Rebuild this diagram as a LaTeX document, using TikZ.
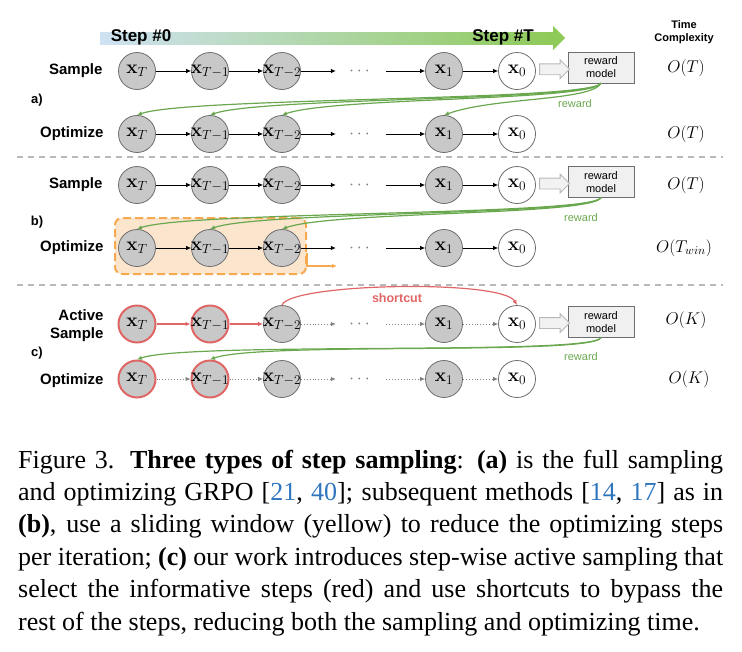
\documentclass[tikz,border=0pt]{standalone}
\usepackage{fix-cm}
\usepackage{amsmath}
\usepackage[no-math]{fontspec}
\setmainfont{Liberation Sans}
\newfontfamily\capfont{Liberation Serif}
\usetikzlibrary{positioning, arrows.meta, calc, shapes.arrows}

\definecolor{nodegray}{RGB}{200,200,200}
\definecolor{edgegray}{RGB}{110,110,110}
\definecolor{rewardgreen}{RGB}{106,168,79}
\definecolor{activered}{RGB}{224,102,102}
\definecolor{winfill}{RGB}{252,229,205}
\definecolor{windraw}{RGB}{246,170,80}
\definecolor{barblue}{RGB}{207,226,243}
\definecolor{bargreen}{RGB}{142,202,88}
\definecolor{citeblue}{RGB}{48,118,190}

\begin{document}
\begin{tikzpicture}[
		x=1pt, y=-1pt,
		>={Latex[length=5pt, width=4.5pt]},
		xnode/.style={circle, draw=edgegray, line width=0.8pt, fill=nodegray, minimum size=37pt, inner sep=-8pt, font=\fontsize{19}{19}\selectfont},
		xlast/.style={xnode, fill=white},
		xactive/.style={xnode, draw=activered, line width=2pt},
		dotsnode/.style={minimum width=50pt, inner sep=0pt, text=gray, font=\fontsize{18}{18}\selectfont},
		link/.style={->, line width=0.8pt},
		redlink/.style={->, draw=activered, line width=1.2pt},
		dotlink/.style={->, gray, line width=0.9pt, dotted},
		rowlabel/.style={anchor=east, align=right, font=\fontsize{15}{18}\selectfont\bfseries},
		panel/.style={font=\fontsize{13}{13}\selectfont\bfseries},
		rmodel/.style={draw=edgegray, fill=gray!12, minimum width=66pt, minimum height=31pt, align=center, inner sep=1pt, font=\fontsize{11}{13}\selectfont},
		feed/.style={single arrow, draw=gray!55, fill=gray!10, line width=0.9pt, minimum height=30pt, single arrow head extend=4pt, inner sep=5pt},
		reward/.style={->, rewardgreen, line width=1.2pt},
		rlabel/.style={text=rewardgreen, font=\fontsize{11}{13}\selectfont},
		cost/.style={font=\fontsize{17}{17}\selectfont},
		divider/.style={gray!55, line width=1.2pt, dash pattern=on 6pt off 5pt},
		window/.style={draw=windraw, fill=winfill, line width=2pt, dash pattern=on 8pt off 4pt, rounded corners=7pt, minimum width=191pt, minimum height=56pt},
		steplabel/.style={anchor=base, font=\fontsize{17}{17}\selectfont\bfseries}
		]
		
		\useasboundingbox (0,0) rectangle (742,651);
		
		% --- Header: step direction bar ---
		\shade[left color=barblue, right color=bargreen] (100,32) rectangle (553,44);
		\fill[bargreen] (553,26) -- (565,38) -- (553,50) -- cycle;
		\node[steplabel] (s0) at (141,41) {Step \#0};
		\node[steplabel] (sT) at (503,41) {Step \#T};
		\node[align=center, font=\fontsize{11}{12.5}\selectfont\bfseries] (tc) at (684,32) {Time\\Complexity};
		
		% Sliding window of b) (behind the nodes)
		\node[window] (win) at (210.5,246) {};
		
		% --- The six chains of steps ---
		\foreach \r/\y/\ns/\fa/\ra in {aS/71/xnode/link/link, aO/134/xnode/link/link,
			bS/185/xnode/link/link, bO/248/xnode/link/link,
			cS/324/xactive/redlink/dotlink, cO/379/xactive/dotlink/dotlink}{
			\node[\ns] (\r-T) at (137,\y) {$\mathbf{x}_T$};
			\node[\ns] (\r-T1) at (210,\y) {$\mathbf{x}_{T-1}$};
			\node[xnode] (\r-T2) at (282,\y) {$\mathbf{x}_{T-2}$};
			\node[dotsnode] (\r-d) at (361,\y) {$\cdots$};
			\node[xnode] (\r-1) at (444,\y) {$\mathbf{x}_1$};
			\node[xlast] (\r-0) at (517,\y) {$\mathbf{x}_0$};
			\draw[\fa] (\r-T) -- (\r-T1);
			\draw[\fa] (\r-T1) -- (\r-T2);
			\draw[\ra] (\r-T2) -- (\r-d);
			\draw[\ra] (\r-d) -- (\r-1);
			\draw[\ra] (\r-1) -- (\r-0);
		}
		
		% Row labels
		\node[rowlabel] (la1) at (106,71) {Sample};
		\node[rowlabel] (la2) at (107,134) {Optimize};
		\node[rowlabel] (lb1) at (106,185) {Sample};
		\node[rowlabel] (lb2) at (107,248) {Optimize};
		\node[rowlabel] (lc1) at (107,326) {Active\\Sample};
		\node[rowlabel] (lc2) at (107,381) {Optimize};
		\node[panel] (pa) at (37,100) {a)};
		\node[panel] (pb) at (37,222) {b)};
		\node[panel] (pc) at (37,353) {c)};
		
		% Separators
		\draw[divider] (17,157) -- (723,157);
		\draw[divider] (17,285) -- (723,285);
		
		% --- Reward models ---
		\node[rmodel] (rmA) at (601,67.5) {reward\\model};
		\node[rmodel] (rmB) at (601,182) {reward\\model};
		\node[rmodel] (rmC) at (601,322) {reward\\model};
		\node[feed] (fa) at ($(aS-0.east)!0.5!(rmA.west)$) {};
		\node[feed] (fb) at ($(bS-0.east)!0.5!(rmB.west)$) {};
		\node[feed] (fc) at ($(cS-0.east)!0.5!(rmC.west)$) {};
		\node[rlabel] (rwA) at (575,104) {reward};
		\node[rlabel] (rwB) at (581,218) {reward};
		\node[rlabel] (rwC) at (581,357) {reward};
		
		% Reward fed back to the optimized steps
		\foreach \t in {aO-T, aO-T1, aO-T2, aO-1}
		\draw[reward] (rmA.south) .. controls +(-10,18) and ($(\t.north)+(50,-18)$) .. (\t.north);
		\foreach \t in {bO-T, bO-T1, bO-T2}
		\draw[reward] (rmB.south) .. controls +(-10,18) and ($(\t.north)+(50,-18)$) .. (\t.north);
		\foreach \t in {cO-T, cO-T1}
		\draw[reward] (rmC.south) .. controls +(-10,18) and ($(\t.north)+(50,-18)$) .. (\t.north);
		
		% Window slides on
		\draw[->, windraw, line width=2pt] ([yshift=-7pt]win.east) |- ([xshift=30pt, yshift=-20pt]win.east);
		
		% Shortcut of c)
		\draw[redlink] (cS-T2.north) .. controls +(8,-22) and +(-15,-26) .. (cS-0.north);
		\node[text=activered, font=\fontsize{12.5}{13}\selectfont\bfseries] (sc) at (397,298) {shortcut};
		
		% --- Time complexity ---
		\node[cost] (ca1) at (686,68) {$O(T)$};
		\node[cost] (ca2) at (686,134) {$O(T)$};
		\node[cost] (cb1) at (686,185) {$O(T)$};
		\node[cost] (cb2) at (684,248) {$O(T_{win})$};
		\node[cost] (cc1) at (686,320) {$O(K)$};
		\node[cost] (cc2) at (689,379) {$O(K)$};
		
		% --- Caption ---
		\node[anchor=base west, inner sep=0pt, text width=705pt, align=justify,
		font=\capfont\fontsize{26}{32.4}\selectfont] (cap) at (18,468) {%
			Figure 3. \textbf{Three types of step sampling}: \textbf{(a)} is the full sampling\linebreak
			and optimizing GRPO [\textcolor{citeblue}{21}, \textcolor{citeblue}{40}]; subsequent methods [\textcolor{citeblue}{14}, \textcolor{citeblue}{17}] as in\linebreak
			\textbf{(b)}, use a sliding window (yellow) to reduce the optimizing steps\linebreak
			per iteration; \textbf{(c)} our work introduces step-wise active sampling that\linebreak
			select the informative steps (red) and use shortcuts to bypass the\linebreak
			rest of the steps, reducing both the sampling and optimizing time.};
		
	\end{tikzpicture}
\end{document}
